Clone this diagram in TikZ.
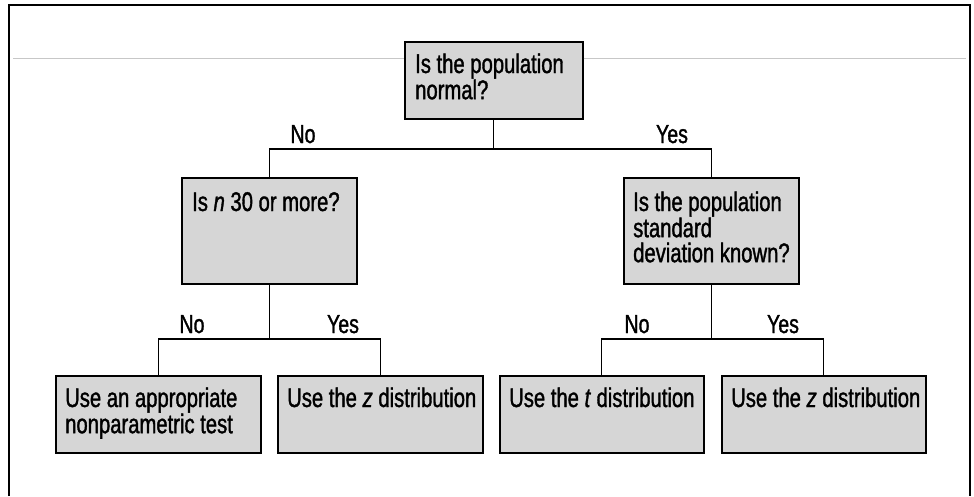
\documentclass[tikz,border=0pt]{standalone}
\usepackage{fontspec}
\setmainfont{Liberation Sans}[FakeStretch=0.75,FakeBold=1.3]
\begin{document}
\begin{tikzpicture}[x=1pt,y=-1pt,
  box/.style={draw=black, line width=1.6pt, fill=black!16, inner sep=0pt, anchor=north west},
  txt/.style={inner sep=0pt, anchor=base west},
  lbl/.style={inner sep=0pt, anchor=base, font=\fontsize{26}{26}\selectfont},
  conn/.style={draw=black, line width=1.2pt},
  frame/.style={draw=black, line width=2pt},
  faint/.style={draw=black!22, line width=0.8pt}
]
\newcommand{\btext}[2]{\parbox[t]{#1}{\raggedright\fontsize{27}{25}\selectfont #2}}
\useasboundingbox (0,0) rectangle (974,496);
% frame
\draw[frame] (9,496) -- (9,5) -- (970,5) -- (970,496);
% boxes
\node[box, minimum width=178pt, minimum height=77pt] (top) at (404,41) {};
\node[box, minimum width=175pt, minimum height=106pt] (lq) at (181,177) {};
\node[box, minimum width=175pt, minimum height=106pt] (rq) at (623,177) {};
\node[box, minimum width=205pt, minimum height=77pt] (b1) at (55,375) {};
\node[box, minimum width=205pt, minimum height=77pt] (b2) at (277,375) {};
\node[box, minimum width=204pt, minimum height=77pt] (b3) at (499,375) {};
\node[box, minimum width=204pt, minimum height=77pt] (b4) at (721,375) {};
% faint rule
\coordinate (fl) at (13,58);
\coordinate (fr) at (966,58);
\draw[faint] (fl) -- (fl -| top.west);
\draw[faint] (top.east |- fr) -- (fr);
% texts
\node[txt] (ttop) at ([xshift=11pt,yshift=-32pt]top.north west) {\btext{170pt}{Is the population\\normal?}};
\node[txt] (tlq) at ([xshift=11pt,yshift=-34pt]lq.north west) {\btext{170pt}{Is \textit{n} 30 or more?}};
\node[txt] (trq) at ([xshift=10pt,yshift=-34pt]rq.north west) {\btext{170pt}{Is the population\\standard\\deviation known?}};
\node[txt] (tb1) at ([xshift=10pt,yshift=-32pt]b1.north west) {\btext{200pt}{Use an appropriate\\nonparametric test}};
\node[txt] (tb2) at ([xshift=10pt,yshift=-32pt]b2.north west) {\btext{200pt}{Use the \textit{z} distribution}};
\node[txt] (tb3) at ([xshift=10pt,yshift=-32pt]b3.north west) {\btext{200pt}{Use the \textit{t} distribution}};
\node[txt] (tb4) at ([xshift=10pt,yshift=-32pt]b4.north west) {\btext{200pt}{Use the \textit{z} distribution}};
% junctions
\coordinate (j1) at (493,149);
\coordinate (j2) at (268,339);
\coordinate (j3) at (711,339);
% connectors
\draw[conn] (top.south) -- (top.south |- j1);
\draw[conn] (lq.north) |- (j1) -| (rq.north);
\draw[conn] (lq.south) -- (lq.south |- j2);
\draw[conn] (b1.north) |- (j2) -| (b2.north);
\draw[conn] (rq.south) -- (rq.south |- j3);
\draw[conn] (b3.north) |- (j3) -| (b4.north);
% labels
\node[lbl] (no1) at (303,143) {No};
\node[lbl] (yes1) at (672,143) {Yes};
\node[lbl] (no2) at (192,333) {No};
\node[lbl] (yes2) at (343,333) {Yes};
\node[lbl] (no3) at (637,333) {No};
\node[lbl] (yes3) at (783,333) {Yes};
\end{tikzpicture}
\end{document}
